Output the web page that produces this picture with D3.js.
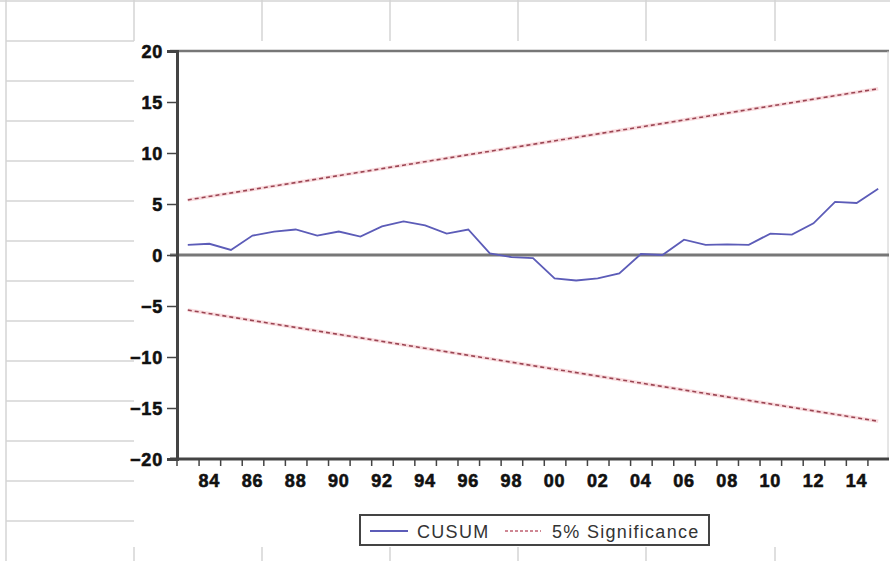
<!DOCTYPE html>
<html lang="en">
<head>
<meta charset="UTF-8">
<title>CUSUM</title>
<script src="https://d3js.org/d3.v7.min.js"></script>
<style>
	body { margin: 0; background: #fff; }
	.tick-label {
		font-family: "Liberation Sans", Arial, sans-serif;
		font-weight: bold;
		font-size: 18px;
		letter-spacing: 0.8px;
		fill: #111;
		stroke: #111;
		stroke-width: 0.6px;
	}
	.legend-text {
		font-family: "Liberation Sans", Arial, sans-serif;
		font-size: 18px;
		letter-spacing: 1.3px;
		fill: #333;
	}
</style>
</head>
<body>
<svg id="chart" width="890" height="561"></svg>
<script>
const width = 890, height = 561;

// data
const years = [1983, 1984, 1985, 1986, 1987, 1988, 1989, 1990, 1991, 1992, 1993,
	1994, 1995, 1996, 1997, 1998, 1999, 2000, 2001, 2002, 2003, 2004,
	2005, 2006, 2007, 2008, 2009, 2010, 2011, 2012, 2013, 2014, 2015];
const cusum = [1.0, 1.1, 0.5, 1.9, 2.3, 2.5, 1.9, 2.3, 1.8, 2.8, 3.3,
	2.9, 2.1, 2.5, 0.15, -0.2, -0.3, -2.3, -2.5, -2.3, -1.8, 0.1,
	0.0, 1.5, 1.0, 1.05, 1.0, 2.1, 2.0, 3.1, 5.2, 5.1, 6.5];
const boundYears = [1983, 2015];
const upperBound = [5.4, 16.3];
const lowerBound = [-5.4, -16.3];
const yTicks = [-20, -15, -10, -5, 0, 5, 10, 15, 20];
const xLabelYears = [1984, 1986, 1988, 1990, 1992, 1994, 1996, 1998, 2000, 2002, 2004, 2006, 2008, 2010, 2012, 2014];
const xLabels = ["84", "86", "88", "90", "92", "94", "96", "98", "00", "02", "04", "06", "08", "10", "12", "14"];

const svg = d3.select("#chart");

// spreadsheet grid behind the chart object
const grid = svg.append("g").attr("stroke", "#d4d4d4").attr("stroke-width", 1.5);
grid.append("line").attr("x1", 0).attr("x2", width).attr("y1", 1).attr("y2", 1);
grid.append("line").attr("x1", 6).attr("x2", 6).attr("y1", 0).attr("y2", height);
const colX = [134, 262, 390, 518, 646, 775];
colX.forEach(x => {
	grid.append("line").attr("x1", x).attr("x2", x).attr("y1", 0).attr("y2", 41);
	grid.append("line").attr("x1", x).attr("x2", x).attr("y1", 547).attr("y2", height);
});
for (let y = 41; y < height; y += 40) {
	grid.append("line").attr("x1", 6).attr("x2", 134).attr("y1", y).attr("y2", y);
}

// scales
const x = d3.scaleLinear().domain([1983, 2016]).range([177, 889]);
const y = d3.scaleLinear().domain([-20, 20]).range([459, 51]);
const px = yr => x(yr + 0.5);

// frame top + right
svg.append("line").attr("x1", 170).attr("x2", 889).attr("y1", y(20)).attr("y2", y(20))
	.attr("stroke", "#777").attr("stroke-width", 2.5);
svg.append("line").attr("x1", 888).attr("x2", 888).attr("y1", y(20)).attr("y2", y(-20))
	.attr("stroke", "#ccc").attr("stroke-width", 1);

// zero line
svg.append("line").attr("x1", 170).attr("x2", 889).attr("y1", y(0)).attr("y2", y(0))
	.attr("stroke", "#777").attr("stroke-width", 3);

// significance lines
const line = d3.line().x(d => px(d[0])).y(d => y(d[1]));
[upperBound, lowerBound].forEach(b => {
	svg.append("path")
		.datum(boundYears.map((yr, i) => [yr, b[i]]))
		.attr("d", line)
		.attr("fill", "none")
		.attr("stroke", "#f4b8bd")
		.attr("stroke-width", 3.5)
		.attr("opacity", 0.5);
	svg.append("path")
		.datum(boundYears.map((yr, i) => [yr, b[i]]))
		.attr("d", line)
		.attr("fill", "none")
		.attr("stroke", "#9a4452")
		.attr("stroke-width", 1.6)
		.attr("stroke-dasharray", "4,3");
});

// CUSUM
svg.append("path")
	.datum(years.map((yr, i) => [yr, cusum[i]]))
	.attr("d", line)
	.attr("fill", "none")
	.attr("stroke", "#5c5cb8")
	.attr("stroke-width", 1.8);

// y axis
const yAxis = svg.append("g").attr("transform", `translate(177,0)`)
	.call(d3.axisLeft(y).tickValues(yTicks).tickSize(10).tickFormat(d3.format("d")));
yAxis.select(".domain").attr("stroke", "#444").attr("stroke-width", 3);
yAxis.selectAll(".tick line").attr("stroke", "#444").attr("stroke-width", 1.5);
yAxis.selectAll(".tick text").attr("class", "tick-label").attr("x", -14).attr("dy", "0.36em");

// x axis, ticks at year boundaries, labels centered in the year
const xAxis = svg.append("g").attr("transform", `translate(0,${y(-20)})`)
	.call(d3.axisBottom(x).tickValues(years.slice(1)).tickSize(7).tickFormat(""));
xAxis.select(".domain").attr("stroke", "#444").attr("stroke-width", 3).attr("d", "M170,0H889");
xAxis.selectAll(".tick line").attr("stroke", "#444").attr("stroke-width", 1.5);
svg.append("line").attr("x1", 177).attr("x2", 177).attr("y1", y(-20)).attr("y2", y(-20) + 7)
	.attr("stroke", "#444").attr("stroke-width", 1.5);

svg.append("g").selectAll("text")
	.data(xLabelYears)
	.enter()
	.append("text")
	.attr("class", "tick-label")
	.attr("x", d => px(d))
	.attr("y", 487)
	.attr("text-anchor", "middle")
	.text((d, i) => xLabels[i]);

// legend
const lg = svg.append("g");
lg.append("rect").attr("x", 360).attr("y", 515).attr("width", 349).attr("height", 30)
	.attr("fill", "#fff").attr("stroke", "#444").attr("stroke-width", 2);
lg.append("line").attr("x1", 370).attr("x2", 408).attr("y1", 531).attr("y2", 531)
	.attr("stroke", "#5c5cb8").attr("stroke-width", 1.8);
lg.append("text").attr("class", "legend-text").attr("x", 417).attr("y", 537.5).text("CUSUM");
lg.append("line").attr("x1", 505).attr("x2", 541).attr("y1", 531).attr("y2", 531)
	.attr("stroke", "#c06070").attr("stroke-width", 1.4).attr("stroke-dasharray", "3,2");
lg.append("text").attr("class", "legend-text").attr("x", 552).attr("y", 537.5).text("5% Significance");
</script>
</body>
</html>
